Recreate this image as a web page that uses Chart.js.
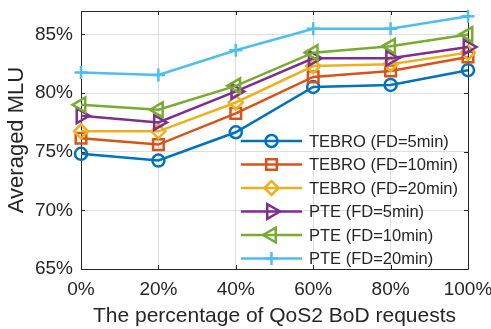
<!DOCTYPE html>
<html>
<head>
<meta charset="utf-8">
<script src="https://cdn.jsdelivr.net/npm/chart.js@4.4.1/dist/chart.umd.min.js"></script>
<style>
  html, body { margin: 0; padding: 0; background: #fff; }
  #wrap { width: 491px; height: 329px; }
</style>
</head>
<body>
<div id="wrap"><canvas id="mluChart"></canvas></div>
<script>
// share of QoS2 BoD requests (x categories)
const shares = ['0%', '20%', '40%', '60%', '80%', '100%'];
const yTicks = [65, 70, 75, 80, 85];

// averaged MLU in percent
const tebro5  = [74.82, 74.25, 76.66, 80.53, 80.70, 81.95];
const tebro10 = [76.15, 75.61, 78.27, 81.38, 81.89, 83.08];
const tebro20 = [76.74, 76.74, 79.20, 82.30, 82.46, 83.45];
const pte5    = [78.07, 77.50, 80.14, 82.97, 82.97, 83.93];
const pte10   = [79.00, 78.58, 80.62, 83.45, 84.00, 85.00];
const pte20   = [81.75, 81.55, 83.65, 85.49, 85.49, 86.56];

const FONT = '"Liberation Sans", Arial, Helvetica, sans-serif';
const INK = '#262626';

function series(label, data, color, style, radius, rotation) {
    return {
        label: label,
        data: data,
        borderColor: color,
        backgroundColor: 'rgba(0,0,0,0)',
        borderWidth: 2.5,
        pointStyle: style,
        pointRadius: radius,
        pointRotation: rotation || 0,
        pointBorderWidth: 2.5,
        pointBorderColor: color,
        pointBackgroundColor: 'rgba(0,0,0,0)',
        tension: 0,
        clip: false
    };
}

const datasets = [
    series('TEBRO (FD=5min)', tebro5, '#0072BD', 'circle', 6),
    series('TEBRO (FD=10min)', tebro10, '#D95319', 'rect', 7.5),
    series('TEBRO (FD=20min)', tebro20, '#EDB120', 'rectRot', 7),
    series('PTE (FD=5min)', pte5, '#7E2F8E', 'triangle', 8.5, 90),
    series('PTE (FD=10min)', pte10, '#77AC30', 'triangle', 8.5, -90),
    series('PTE (FD=20min)', pte20, '#4DBEEE', 'cross', 6.5)
];
// later series sit on top of earlier ones
datasets.forEach((ds, i) => { ds.order = datasets.length - i; });

// axes box with inward tick marks on all four sides
const boxPlugin = {
    id: 'boxPlugin',
    beforeDatasetsDraw: (chart) => {
        const ctx = chart.ctx;
        const { left, right, top, bottom } = chart.chartArea;
        const xs = chart.scales.x, ys = chart.scales.y;
        const tl = 4;
        ctx.save();
        ctx.strokeStyle = INK;
        ctx.lineWidth = 1;
        ctx.beginPath();
        ctx.rect(Math.round(left) + 0.5, Math.round(top) + 0.5,
                 Math.round(right - left), Math.round(bottom - top));
        shares.forEach((s, i) => {
            const x = Math.round(xs.getPixelForValue(i)) + 0.5;
            ctx.moveTo(x, bottom); ctx.lineTo(x, bottom - tl);
            ctx.moveTo(x, top); ctx.lineTo(x, top + tl);
        });
        yTicks.forEach((v) => {
            const y = Math.round(ys.getPixelForValue(v)) + 0.5;
            ctx.moveTo(left, y); ctx.lineTo(left + tl, y);
            ctx.moveTo(right, y); ctx.lineTo(right - tl, y);
        });
        ctx.stroke();
        ctx.restore();
    }
};

function marker(ctx, ds, x, y) {
    const opts = {
        pointStyle: ds.pointStyle,
        rotation: ds.pointRotation,
        radius: ds.pointRadius,
        borderWidth: ds.pointBorderWidth
    };
    Chart.helpers.drawPoint(ctx, opts, x, y);
}

// legend drawn inside the plot, transparent background
const legendInside = {
    id: 'legendInside',
    afterDatasetsDraw: (chart) => {
        const ctx = chart.ctx;
        const { left, top } = chart.chartArea;
        const x0 = left + 160, x1 = left + 221, xm = (x0 + x1) / 2;
        ctx.save();
        ctx.font = '16.5px ' + FONT;
        ctx.textAlign = 'left';
        ctx.textBaseline = 'middle';
        chart.data.datasets.forEach((ds, i) => {
            const y = top + 130 + i * 23.5;
            ctx.strokeStyle = ds.borderColor;
            ctx.fillStyle = 'rgba(0,0,0,0)';
            ctx.lineWidth = 2.5;
            ctx.beginPath();
            ctx.moveTo(x0, y);
            ctx.lineTo(x1, y);
            ctx.stroke();
            marker(ctx, ds, xm, y);
            ctx.fillStyle = INK;
            ctx.fillText(ds.label, left + 228, y + 1);
        });
        ctx.restore();
    }
};

function noEdgePadding(scale) {
    scale.paddingLeft = 0;
    scale.paddingRight = 0;
    scale.paddingTop = 0;
    scale.paddingBottom = 0;
}

const ctx = document.getElementById('mluChart').getContext('2d');
const mluChart = new Chart(ctx, {
    type: 'line',
    data: {
        labels: shares,
        datasets: datasets
    },
    options: {
        responsive: true,
        maintainAspectRatio: false,
        animation: false,
        events: [],
        layout: {
            padding: { top: 9, right: 23, left: 0, bottom: 0 }
        },
        scales: {
            x: {
                type: 'category',
                offset: false,
                border: { display: false },
                grid: { color: '#dfdfdf', lineWidth: 1, drawTicks: false },
                ticks: {
                    color: INK,
                    font: { family: FONT, size: 19 },
                    padding: 9,
                    maxRotation: 0,
                    autoSkip: false
                },
                title: {
                    display: true,
                    text: 'The percentage of QoS2 BoD requests',
                    color: INK,
                    font: { family: FONT, size: 21 },
                    padding: { top: 0, bottom: 0 }
                },
                afterFit: (scale) => { scale.height = 60; noEdgePadding(scale); }
            },
            y: {
                min: 65,
                max: 87,
                border: { display: false },
                grid: { color: '#dfdfdf', lineWidth: 1, drawTicks: false },
                afterBuildTicks: (scale) => {
                    scale.ticks = yTicks.map(v => ({ value: v }));
                },
                ticks: {
                    color: INK,
                    font: { family: FONT, size: 19 },
                    padding: 8,
                    callback: (v) => v + '%'
                },
                title: {
                    display: true,
                    text: 'Averaged MLU',
                    color: INK,
                    font: { family: FONT, size: 22 },
                    padding: { top: 4, bottom: 4 }
                },
                afterFit: (scale) => { scale.width = 81; noEdgePadding(scale); }
            }
        },
        plugins: {
            legend: { display: false },
            tooltip: { enabled: false }
        }
    },
    plugins: [boxPlugin, legendInside]
});
</script>
</body>
</html>
